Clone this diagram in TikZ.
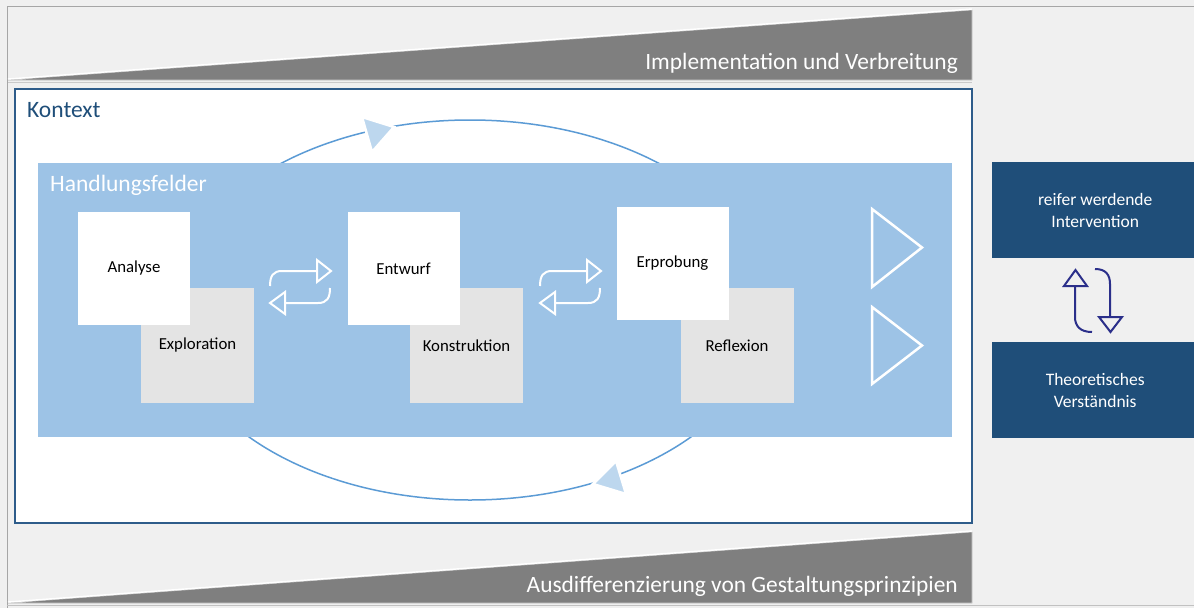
\documentclass[tikz,border=0pt]{standalone}
\usepackage{fontspec}
\setmainfont{Carlito}
\definecolor{bg}{HTML}{F0F0F0}
\definecolor{wedge}{HTML}{7F7F7F}
\definecolor{frame}{HTML}{A6A6A6}
\definecolor{kborder}{HTML}{2E5C8A}
\definecolor{navy}{HTML}{1F4E79}
\definecolor{band}{HTML}{9DC3E6}
\definecolor{cyc}{HTML}{5B9BD5}
\definecolor{cychead}{HTML}{BDD7EE}
\definecolor{greybox}{HTML}{E4E4E4}
\definecolor{darkarrow}{HTML}{2B2F8A}
\begin{document}
\begin{tikzpicture}[x=1pt,y=-1pt,
  whitebox/.style={fill=white,draw=none,minimum width=112pt,minimum height=113pt,inner sep=0pt,font=\fontsize{16.8}{19}\selectfont},
  greyb/.style={fill=greybox,draw=none,minimum width=113pt,minimum height=115pt,inner sep=0pt,font=\fontsize{16.8}{19}\selectfont},
  navybox/.style={fill=navy,draw=none,minimum width=206pt,minimum height=96pt,inner sep=0pt,text=white,align=center,font=\fontsize{17.5}{22}\selectfont},
  swapline/.style={draw=white,line width=2pt},
  bigtri/.style={draw=white,line width=2.5pt,line join=miter},
  cycline/.style={draw=cyc,line width=1.5pt},
  cychd/.style={fill=cychead,draw=white,line width=2.5pt},
  darr/.style={draw=darkarrow,line width=2pt},
  wedgetext/.style={text=white,anchor=east,font=\fontsize{23.4}{26}\selectfont,inner sep=0pt}
]
\useasboundingbox (0,0) rectangle (1194,608);
\fill[bg] (0,0) rectangle (1194,608);
\draw[frame,line width=1pt] (7,608) -- (7,6.5) -- (1194,6.5);
\draw[frame!70,line width=0.8pt] (7,605.5) -- (1194,605.5);

% top wedge
\draw[fill=wedge,draw=frame!60,line width=0.6pt] (8,80) -- (972,10) -- (972,80) -- cycle;
\draw[white,line width=1.4pt] (8,79) -- (972,9);
\draw[frame!60,line width=0.8pt] (8,82) -- (972,82);
\node[wedgetext] (impl) at (958,63) {Implementation und Verbreitung};

% bottom wedge
\draw[fill=wedge,draw=frame!60,line width=0.6pt] (8,603) -- (972,532) -- (972,603) -- cycle;
\draw[white,line width=1.4pt] (8,602) -- (972,531);
\node[wedgetext] (ausd) at (958,586) {Ausdifferenzierung von Gestaltungsprinzipien};

% Kontext
\draw[fill=white,draw=kborder,line width=1.2pt] (15,89) rectangle (972,523);
\node[anchor=west,text=navy,font=\fontsize{23.5}{26}\selectfont,inner sep=0pt] (kontext) at (27,110) {Kontext};

% cycle ellipse
\draw[cycline] (470,310) ellipse [x radius=297pt, y radius=190pt];
\draw[cychd] (362,117) -- (394,127) -- (372,152) -- cycle;
\draw[cychd] (616,461) -- (626,494) -- (593,484) -- cycle;

% band
\fill[band] (38,163) rectangle (952,437);
\node[anchor=west,text=white,font=\fontsize{23.5}{26}\selectfont,inner sep=0pt] (hf) at (50,185) {Handlungsfelder};

% boxes
\node[greyb] (ex) at (197.5,345.5) {Exploration};
\node[whitebox] (an) at (134,268.5) {Analyse};
\node[greyb] (ko) at (466.5,345.5) {Konstruktion};
\node[whitebox] (en) at (403.5,268.5) {Entwurf};
\node[greyb] (re) at (737,345.5) {Reflexion};
\node[whitebox] (er) at (672.5,263.5) {Erprobung};

% swap arrows
\foreach \dx in {0,270}{
\begin{scope}[xshift=\dx pt]
\draw[swapline] (270,286) .. controls (270,276) and (273,271) .. (282,271) -- (317,271);
\draw[swapline,line join=miter] (317,260) -- (331,271) -- (317,282) -- cycle;
\draw[swapline] (330,288) .. controls (330,298) and (327,303) .. (318,303) -- (285,303);
\draw[swapline,line join=miter] (285,292) -- (270,303) -- (285,314) -- cycle;
\end{scope}}

% big triangles
\draw[bigtri] (872,209) -- (922,247.5) -- (872,287) -- cycle;
\draw[bigtri] (872,307) -- (922,345.5) -- (872,384) -- cycle;

% right boxes
\node[navybox,anchor=north west] (int) at (992,162) {reifer werdende\\Intervention};
\node[navybox,anchor=north west] (theo) at (992,342) {Theoretisches\\Verständnis};

% vertical arrows
\draw[darr] (1092,332) .. controls (1080,332) and (1075,326) .. (1075,317) -- (1075,286);
\draw[darr,line join=miter] (1064,286) -- (1075.5,270) -- (1087,286) -- cycle;
\draw[darr] (1095,269) .. controls (1106,269) and (1110,275) .. (1110,284) -- (1110,317);
\draw[darr,line join=miter] (1099,317) -- (1110.5,332) -- (1122,317) -- cycle;
\end{tikzpicture}
\end{document}
